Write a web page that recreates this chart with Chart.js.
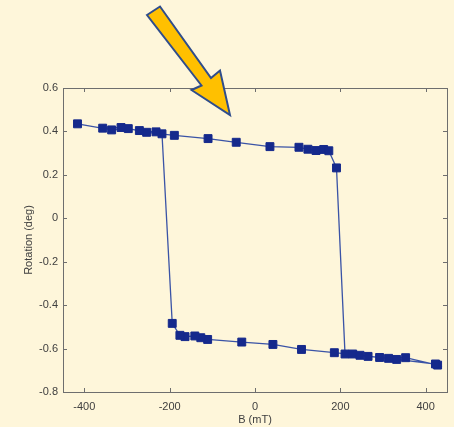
<!DOCTYPE html>
<html>
<head>
<meta charset="utf-8">
<script src="https://cdn.jsdelivr.net/npm/chart.js@4/dist/chart.umd.min.js"></script>
<style>
  body { margin: 0; background: #fef6da; }
  canvas { display: block; }
</style>
</head>
<body>
<canvas id="loop" width="454" height="427"></canvas>
<script>
// measurement order: up-sweep on upper branch, switch near +200, back along lower branch, switch near -200
const bField = [-416, -336, -297, -254, -189, -110, -44, 35, 103, 124, 143, 161, 173, 191,
  211, 229, 265, 313, 353, 428,
  423, 332, 292, 246, 186, 109, 42, -31, -111, -127, -141, -164, -176, -194,
  -218, -232, -271, -314, -357];
const rotation = [0.435, 0.407, 0.413, 0.396, 0.382, 0.367, 0.350, 0.330, 0.327, 0.318, 0.312, 0.317, 0.311, 0.232,
  -0.625, -0.625, -0.636, -0.645, -0.642, -0.676,
  -0.671, -0.650, -0.641, -0.631, -0.619, -0.604, -0.581, -0.570, -0.558, -0.550, -0.542, -0.545, -0.539, -0.484,
  0.389, 0.398, 0.404, 0.418, 0.415];

const xTicks = [-400, -200, 0, 200, 400];
const yTicks = [-0.8, -0.6, -0.4, -0.2, 0, 0.2, 0.4, 0.6];

const axisColor = '#6e6e6e';
const textColor = '#404040';
const font = { family: "'Liberation Sans', Arial, sans-serif", size: 11 };

// box round the plot with inward ticks on all four sides, plus the arrow
const frame = {
  id: 'frame',
  beforeDraw(chart) {
    const ctx = chart.ctx;
    ctx.save();
    ctx.fillStyle = '#fef6da';
    ctx.fillRect(0, 0, chart.width, chart.height);
    ctx.restore();
  },
  afterDraw(chart) {
    const { ctx, chartArea: a, scales } = chart;
    ctx.save();
    ctx.strokeStyle = axisColor;
    ctx.lineWidth = 1;
    ctx.strokeRect(Math.round(a.left) + 0.5, Math.round(a.top) + 0.5,
      Math.round(a.right - a.left), Math.round(a.bottom - a.top));
    ctx.beginPath();
    const t = 4;
    scales.x.ticks.forEach(tk => {
      const px = Math.round(scales.x.getPixelForValue(tk.value)) + 0.5;
      ctx.moveTo(px, a.bottom); ctx.lineTo(px, a.bottom - t);
      ctx.moveTo(px, a.top); ctx.lineTo(px, a.top + t);
    });
    scales.y.ticks.forEach(tk => {
      const py = Math.round(scales.y.getPixelForValue(tk.value)) + 0.5;
      ctx.moveTo(a.left, py); ctx.lineTo(a.left + t, py);
      ctx.moveTo(a.right, py); ctx.lineTo(a.right - t, py);
    });
    ctx.stroke();

    // pointer arrow
    const pts = [[147, 15], [160, 6.5], [211, 78], [220, 70.5], [230, 115], [191.5, 90], [201.5, 85.5]];
    ctx.beginPath();
    pts.forEach((p, i) => i ? ctx.lineTo(p[0], p[1]) : ctx.moveTo(p[0], p[1]));
    ctx.closePath();
    ctx.fillStyle = '#ffc000';
    ctx.fill();
    ctx.lineWidth = 2;
    ctx.lineJoin = 'miter';
    ctx.strokeStyle = '#2f4d8c';
    ctx.stroke();
    ctx.restore();
  }
};

new Chart(document.getElementById('loop'), {
  type: 'scatter',
  data: {
    datasets: [{
      data: bField.map((b, i) => ({ x: b, y: rotation[i] })),
      showLine: true,
      borderColor: '#3a53a6',
      borderWidth: 1.3,
      backgroundColor: '#15298c',
      pointStyle: 'rect',
      pointRadius: 5.6,
      pointBorderWidth: 1,
      pointBorderColor: '#15298c',
      pointBackgroundColor: '#15298c',
      tension: 0
    }]
  },
  options: {
    responsive: false,
    animation: false,
    layout: { padding: { top: 88, right: 7, left: 0, bottom: 0 } },
    plugins: { legend: { display: false }, tooltip: { enabled: false } },
    scales: {
      x: {
        type: 'linear',
        min: -450,
        max: 450,
        grid: { display: false, drawTicks: false },
        border: { display: false },
        afterBuildTicks: s => { s.ticks = xTicks.map(v => ({ value: v })); },
        afterFit: s => { s.height = 35; },
        ticks: { color: textColor, font: font, padding: 8, maxRotation: 0 },
        title: { display: true, text: 'B (mT)', color: textColor, font: font, padding: { top: 0, bottom: 0 } }
      },
      y: {
        type: 'linear',
        min: -0.8,
        max: 0.6,
        grid: { display: false, drawTicks: false },
        border: { display: false },
        afterBuildTicks: s => { s.ticks = yTicks.map(v => ({ value: v })); },
        afterFit: s => { s.width = 63; },
        ticks: {
          color: textColor, font: font, padding: 5,
          callback: v => Math.abs(v) < 1e-9 ? '0' : v.toFixed(1)
        },
        title: { display: true, text: 'Rotation (deg)', color: textColor, font: font, padding: { top: 22, bottom: 0 } }
      }
    }
  },
  plugins: [frame]
});
</script>
</body>
</html>
